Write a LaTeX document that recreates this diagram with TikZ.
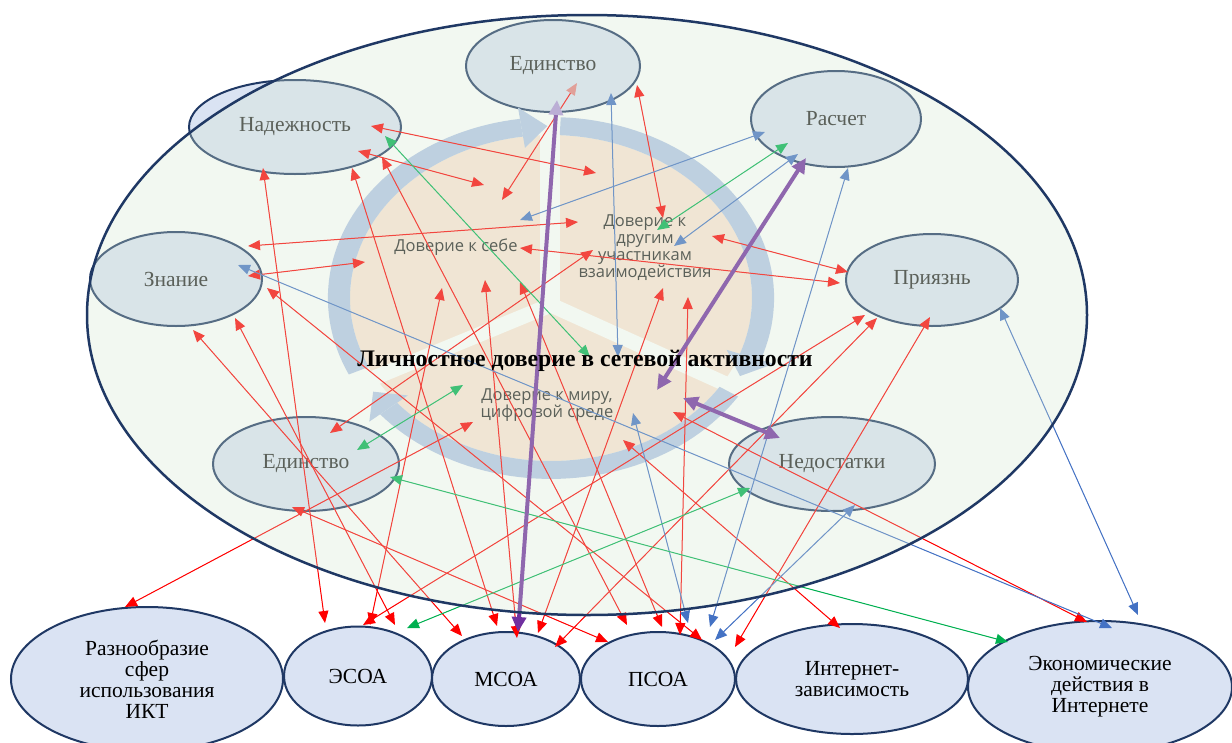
\documentclass[tikz,border=0pt]{standalone}
\usepackage{fontspec}
\setmainfont{Liberation Serif}
\newfontfamily\sectfont{Open Sans}
\usetikzlibrary{arrows.meta,shapes.geometric}
\definecolor{navy}{RGB}{31,56,100}
\definecolor{nodefill}{RGB}{218,227,243}
\definecolor{peach}{RGB}{251,229,214}
\definecolor{band}{RGB}{180,199,231}
\definecolor{ovl}{RGB}{215,232,209}
\definecolor{ared}{RGB}{255,0,0}
\definecolor{ablue}{RGB}{68,114,196}
\definecolor{agreen}{RGB}{0,176,80}
\definecolor{apurple}{RGB}{112,48,160}
\definecolor{pinkhead}{RGB}{230,130,130}
\definecolor{lavhead}{RGB}{175,150,215}
\def\X#1#2{551+#2*201*cos(#1)}
\def\Y#1#2{298-#2*163*sin(#1)}
\begin{document}
\begin{tikzpicture}[x=1pt,y=-1pt,
  inner/.style={ellipse, draw=navy, line width=2pt, fill=nodefill, inner sep=0pt, text=black!85, font=\fontsize{21.5}{23}\selectfont},
  outer/.style={ellipse, draw=navy, line width=2pt, fill=nodefill, inner sep=0pt, align=center, font=\fontsize{21.5}{21}\selectfont},
  sect/.style={font=\sectfont\fontsize{16.5}{17}\selectfont, text=black!85, align=center},
  lnk/.style={line width=1pt, {Triangle[length=12pt,width=10pt]}-{Triangle[length=12pt,width=10pt]}},
  rl/.style={lnk, draw=ared, fill=ared},
  bl/.style={lnk, draw=ablue, fill=ablue},
  gl/.style={lnk, draw=agreen, fill=agreen},
  pl/.style={line width=4pt, draw=apurple, fill=apurple, {Triangle[length=15pt,width=14pt]}-{Triangle[length=15pt,width=14pt]}},
  cycband/.style={fill=band},
  gap/.style={draw=white, line width=#1},
]
\clip (0,0) rectangle (1232,742);
\fill[white] (0,0) rectangle (1232,742);

% ---- inner nodes
\node[inner, minimum width=174pt, minimum height=92pt] (edtop) at (553,66) {Единство};
\node[inner, minimum width=212pt, minimum height=94pt] (nad) at (295,127) {Надежность};
\node[inner, minimum width=170pt, minimum height=96pt] (ras) at (836,119) {Расчет};
\node[inner, minimum width=172pt, minimum height=94pt] (zna) at (176,279) {Знание};
\node[inner, minimum width=172pt, minimum height=92pt] (pri) at (932,280) {Приязнь};
\node[inner, minimum width=186pt, minimum height=94pt] (edlow) at (306,464) {Единство};
\node[inner, minimum width=206pt, minimum height=94pt] (ned) at (832,464) {Недостатки};

% ---- cycle graphic
\fill[peach] (551,298) ellipse[x radius=201, y radius=163];
\draw[gap=20pt] (550,312) -- (550,128);
\draw[gap=15pt] (551,305) -- (335,394);
\draw[gap=15pt] (551,305) -- (770,404);
% band arcs
\fill[cycband] plot[domain=205:98, samples=50, variable=\t] ({\X{\t}{1.11}},{\Y{\t}{1.11}})
   -- plot[domain=98:205, samples=50, variable=\t] ({\X{\t}{1.0}},{\Y{\t}{1.0}}) -- cycle;
\fill[cycband] ({\X{98}{0.93}},{\Y{98}{0.93}}) -- ({\X{98}{1.18}},{\Y{98}{1.18}}) -- ({\X{91}{1.055}},{\Y{91}{1.055}}) -- cycle;
\fill[cycband] plot[domain=87.5:-20, samples=50, variable=\t] ({\X{\t}{1.11}},{\Y{\t}{1.11}})
   -- plot[domain=-20:87.5, samples=50, variable=\t] ({\X{\t}{1.0}},{\Y{\t}{1.0}}) -- cycle;
\fill[cycband] ({\X{-20}{0.93}},{\Y{-20}{0.93}}) -- ({\X{-20}{1.18}},{\Y{-20}{1.18}}) -- ({\X{-27}{1.055}},{\Y{-27}{1.055}}) -- cycle;
\fill[cycband] plot[domain=-33:-140, samples=50, variable=\t] ({\X{\t}{1.11}},{\Y{\t}{1.11}})
   -- plot[domain=-140:-33, samples=50, variable=\t] ({\X{\t}{1.0}},{\Y{\t}{1.0}}) -- cycle;
\fill[cycband] ({\X{-140}{0.93}},{\Y{-140}{0.93}}) -- ({\X{-140}{1.18}},{\Y{-140}{1.18}}) -- ({\X{-147}{1.055}},{\Y{-147}{1.055}}) -- cycle;

\node[sect] (self) at (456,247) {Доверие к себе};
\node[sect] (others) at (645,248) {Доверие к\\другим\\участникам\\взаимодействия};
\node[sect] (world) at (547,405) {Доверие к миру,\\цифровой среде};

% ---- bottom nodes
\node[outer, minimum width=272pt, minimum height=144pt] (raz) at (147,679) {Разнообразие\\сфер\\использования\\ИКТ};
\node[outer, minimum width=148pt, minimum height=99pt] (esoa) at (358,676) {ЭСОА};
\node[outer, minimum width=148pt, minimum height=94pt] (msoa) at (506,679) {МСОА};
\node[outer, minimum width=154pt, minimum height=94pt] (psoa) at (658,679) {ПСОА};
\node[outer, minimum width=232pt, minimum height=110pt] (inet) at (852,679) {Интернет-\\зависимость};
\node[outer, minimum width=264pt, minimum height=132pt] (econ) at (1100,687) {Экономические\\действия в\\Интернете};

% ---- connector end points
\coordinate (r1a) at (371,126); \coordinate (r1b) at (596,173);
\coordinate (r2a) at (358,151); \coordinate (r2b) at (484,185);
\coordinate (r3a) at (263,168); \coordinate (r3b) at (325,623);
\coordinate (r4a) at (352,168); \coordinate (r4b) at (497,626);
\coordinate (r5a) at (382,157); \coordinate (r5b) at (627,625);
\coordinate (r6a) at (577,83);  \coordinate (r6b) at (502,200);
\coordinate (r7a) at (637,85);  \coordinate (r7b) at (663,218);
\coordinate (r8a) at (712,236); \coordinate (r8b) at (848,272);
\coordinate (r9a) at (520,248); \coordinate (r9b) at (840,283);
\coordinate (r10a) at (248,246); \coordinate (r10b) at (578,222);
\coordinate (r11a) at (248,276); \coordinate (r11b) at (365,262);
\coordinate (r12a) at (593,250); \coordinate (r12b) at (330,433);
\coordinate (r13a) at (193,330); \coordinate (r13b) at (462,636);
\coordinate (r14a) at (235,318); \coordinate (r14b) at (395,625);
\coordinate (r15a) at (267,288); \coordinate (r15b) at (702,640);
\coordinate (r16a) at (865,315); \coordinate (r16b) at (363,625);
\coordinate (r17a) at (877,318); \coordinate (r17b) at (555,647);
\coordinate (r18a) at (930,317); \coordinate (r18b) at (735,647);
\coordinate (r19a) at (442,288); \coordinate (r19b) at (370,625);
\coordinate (r20a) at (485,280); \coordinate (r20b) at (517,638);
\coordinate (r21a) at (520,282); \coordinate (r21b) at (662,627);
\coordinate (r22a) at (663,288); \coordinate (r22b) at (538,633);
\coordinate (r23a) at (688,297); \coordinate (r23b) at (680,635);
\coordinate (r24a) at (292,507); \coordinate (r24b) at (608,642);
\coordinate (r25a) at (473,422); \coordinate (r25b) at (125,607);
\coordinate (r26a) at (623,440); \coordinate (r26b) at (840,628);
\coordinate (r27a) at (673,412); \coordinate (r27b) at (1087,622);
\coordinate (b1a) at (611,93);  \coordinate (b1b) at (618,357);
\coordinate (b2a) at (765,132); \coordinate (b2b) at (520,220);
\coordinate (b3a) at (798,154); \coordinate (b3b) at (674,246);
\coordinate (b4a) at (848,168); \coordinate (b4b) at (710,627);
\coordinate (b5a) at (238,265); \coordinate (b5b) at (1112,628);
\coordinate (b6a) at (1000,308); \coordinate (b6b) at (1138,615);
\coordinate (b7a) at (633,413); \coordinate (b7b) at (688,623);
\coordinate (b8a) at (855,505); \coordinate (b8b) at (715,640);
\coordinate (g1a) at (385,136); \coordinate (g1b) at (590,357);
\coordinate (g2a) at (788,143); \coordinate (g2b) at (657,230);
\coordinate (g3a) at (463,385); \coordinate (g3b) at (357,450);
\coordinate (g4a) at (750,488); \coordinate (g4b) at (407,628);
\coordinate (g5a) at (390,477); \coordinate (g5b) at (1008,642);
\coordinate (p1a) at (557,100); \coordinate (p1b) at (518,632);
\coordinate (p2a) at (806,158); \coordinate (p2b) at (657,390);
\coordinate (p3a) at (683,398); \coordinate (p3b) at (780,438);

% ---- connectors
\foreach \i in {1,2,3,4,5,7,8,9,10,11,12,13,14,15,16,17,18,19,20,21,22,23,24,25,26,27}
  \draw[rl] (r\i a) -- (r\i b);
\draw[line width=1pt, draw=ared, {Triangle[length=12pt,width=10pt,color=pinkhead]}-{Triangle[length=12pt,width=10pt,color=ared]}] (r6a) -- (r6b);
\foreach \i in {1,...,8}
  \draw[bl] (b\i a) -- (b\i b);
\foreach \i in {1,...,5}
  \draw[gl] (g\i a) -- (g\i b);
\draw[line width=4pt, draw=apurple, {Triangle[length=15pt,width=14pt,color=lavhead]}-{Triangle[length=15pt,width=14pt,color=apurple]}] (p1a) -- (p1b);
\draw[pl] (p2a) -- (p2b);
\draw[pl] (p3a) -- (p3b);

% ---- translucent overlay and outline of the big ellipse
\fill[ovl, opacity=0.3] (587,315) ellipse[x radius=500, y radius=300];
\draw[navy, line width=2.5pt] (587,315) ellipse[x radius=500, y radius=300];

\node[font=\bfseries\fontsize{23.7}{26}\selectfont] (title) at (585,361) {Личностное доверие в сетевой активности};
\end{tikzpicture}
\end{document}
